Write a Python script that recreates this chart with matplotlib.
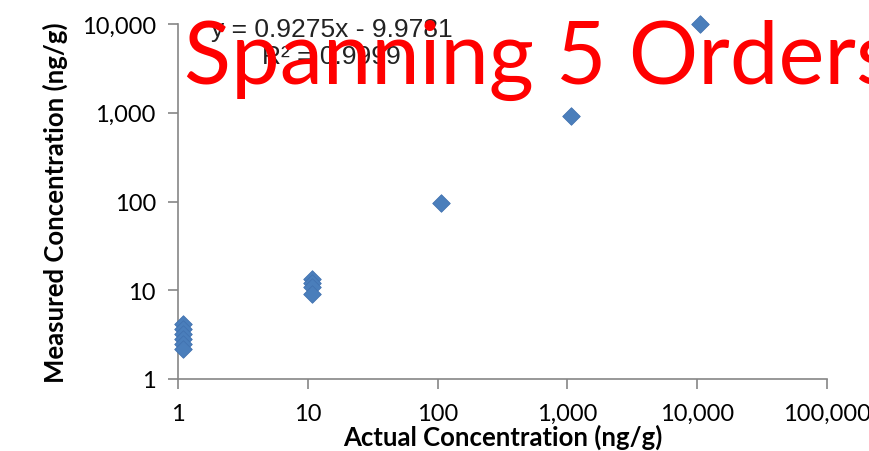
import matplotlib
matplotlib.use("Agg")
from matplotlib import pyplot as plt
from matplotlib.ticker import FixedLocator, FuncFormatter, NullLocator

# actual vs measured concentration (ng/g)
actual = [1.1, 1.1, 1.1, 1.1, 1.1, 1.1,
          10.8, 10.8, 10.8, 10.8,
          107, 1060, 10600]
measured = [4.2, 3.7, 3.2, 2.8, 2.5, 2.2,
            13.5, 12.0, 10.8, 9.0,
            97, 930, 9900]

x_ticks = [1, 10, 100, 1000, 10000, 100000]
y_ticks = [1, 10, 100, 1000, 10000]

fit_text = "y = 0.9275x - 9.9781"
r2_text = "R\u00b2 = 0.9999"
overlay = "Spanning 5 Orders"

plt.rcParams['font.family'] = ['Lato', 'DejaVu Sans']

fig = plt.figure(figsize=(8.69, 4.52), dpi=100)
ax = fig.add_axes([178/869, 72/452, (827-178)/869, (380-25)/452])

ax.scatter(actual, measured, marker='D', s=80, c="#4A7EBB", edgecolors="#4272B0",
           linewidths=0.6, zorder=3, clip_on=False)

ax.set_xscale('log')
ax.set_yscale('log')
ax.set_xlim(1, 100000)
ax.set_ylim(1, 10000)

comma = FuncFormatter(lambda v, p: "{:,}".format(int(round(v))))
ax.xaxis.set_major_locator(FixedLocator(x_ticks))
ax.yaxis.set_major_locator(FixedLocator(y_ticks))
ax.xaxis.set_minor_locator(NullLocator())
ax.yaxis.set_minor_locator(NullLocator())
ax.xaxis.set_major_formatter(comma)
ax.yaxis.set_major_formatter(comma)

for side in ['top', 'right']:
    ax.spines[side].set_visible(False)
for side in ['left', 'bottom']:
    ax.spines[side].set_color("#868686")
    ax.spines[side].set_linewidth(1.2)
ax.tick_params(axis='both', which='major', direction='out', length=7, width=1.2,
               color="#868686", labelsize=17, labelcolor="black")
ax.tick_params(axis='x', pad=10)
ax.tick_params(axis='y', pad=9)

ax.set_xlabel("Actual Concentration (ng/g)", fontsize=18.5, fontweight='bold', labelpad=0)
ax.set_ylabel("Measured Concentration (ng/g)", fontsize=18.5, fontweight='bold', labelpad=10)

fig.text(332/869, 1 - 30/452, fit_text, fontsize=19, color="#222222",
         family='Liberation Sans', ha='center', va='center')
fig.text(331/869, 1 - 57/452, r2_text, fontsize=19, color="#222222",
         family='Liberation Sans', ha='center', va='center')

fig.text(184/869, 1 - 84/452, overlay, fontsize=62.5, color="#FF0000",
         ha='left', va='baseline')

plt.savefig("out.png", dpi=100)
